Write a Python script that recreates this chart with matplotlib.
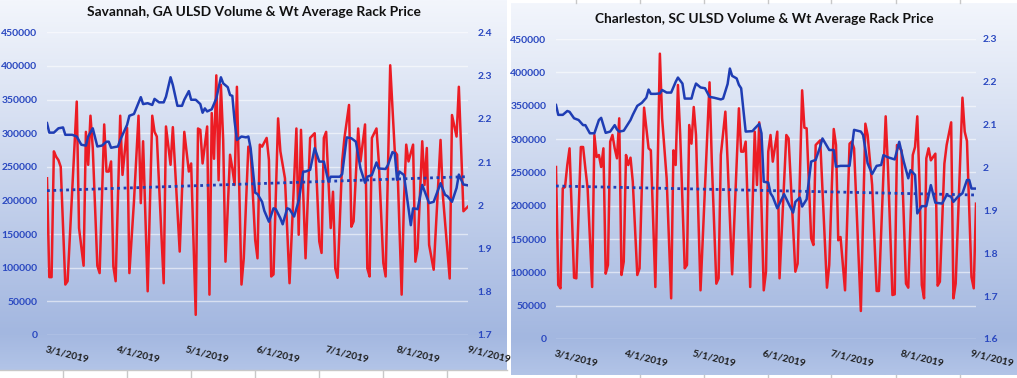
import matplotlib
matplotlib.use('Agg')
import matplotlib.pyplot as plt
import matplotlib.dates as mdates
import matplotlib.ticker as ticker
import numpy as np
import pandas as pd

START = pd.Timestamp('2019-03-01')

# Savannah, GA - daily volume (day offset from 3/1/2019, gallons)
sav_vol_days = [0, 1, 2, 3, 4, 5, 6, 8, 9, 13, 14, 16, 17, 18, 19, 20, 22, 23, 25, 26, 27, 28, 29, 30,
                32, 33, 35, 36, 38, 40, 41, 42, 44, 46, 47, 48, 51, 52, 54, 55, 58, 60, 62, 63, 65, 66,
                67, 68, 70, 71, 72, 73, 74, 75, 76, 77, 78, 80, 81, 82, 83, 85, 86, 88, 89, 91, 92, 93,
                94, 96, 97, 98, 99, 101, 102, 104, 106, 109, 110, 111, 113, 115, 117, 119, 120, 121, 122,
                124, 125, 126, 127, 129, 130, 132, 133, 134, 136, 137, 139, 140, 141, 142, 144, 145, 147,
                148, 150, 152, 153, 155, 156, 157, 158, 160, 161, 162, 164, 165, 166, 167, 169, 172, 173,
                176, 177, 179, 180, 182, 184]
sav_volume = [233000, 86000, 86000, 273000, 265000, 260000, 250000, 75000, 80000, 347000, 159000, 103000,
              302000, 253000, 326000, 278000, 103000, 92000, 313000, 243000, 243000, 258000, 102000, 80000,
              326000, 238000, 308000, 92000, 198000, 326000, 196000, 288000, 65000, 326000, 302000, 295000,
              77000, 310000, 253000, 309000, 124000, 302000, 243000, 255000, 30000, 307000, 305000, 255000,
              310000, 60000, 330000, 262000, 386000, 230000, 372000, 290000, 109000, 268000, 248000, 223000,
              369000, 75000, 114000, 280000, 273000, 141000, 114000, 283000, 280000, 293000, 260000, 87000,
              90000, 322000, 273000, 233000, 77000, 307000, 149000, 305000, 114000, 293000, 300000, 139000,
              122000, 293000, 302000, 159000, 213000, 99000, 85000, 258000, 293000, 342000, 161000, 169000,
              307000, 258000, 313000, 99000, 87000, 293000, 307000, 258000, 107000, 87000, 401000, 273000,
              268000, 60000, 198000, 283000, 258000, 283000, 109000, 129000, 288000, 223000, 278000, 134000,
              97000, 290000, 208000, 84000, 327000, 295000, 369000, 184000, 191000]
sav_price_days = [0, 1, 3, 5, 7, 8, 11, 13, 15, 17, 18, 20, 22, 24, 26, 27, 28, 31, 32, 35, 36, 38, 39, 41,
                  42, 44, 46, 47, 49, 51, 52, 54, 55, 57, 59, 60, 62, 63, 65, 67, 68, 69, 70, 72, 74, 76,
                  77, 79, 80, 81, 82, 83, 85, 87, 88, 89, 91, 92, 94, 95, 97, 99, 100, 102, 103, 105, 106,
                  108, 110, 112, 113, 115, 117, 119, 121, 123, 124, 128, 129, 131, 133, 135, 137, 139, 140,
                  142, 144, 145, 148, 149, 151, 152, 153, 154, 156, 159, 160, 162, 164, 167, 169, 172, 174,
                  175, 177, 179, 180, 182, 184]
sav_price = [2.190, 2.168, 2.168, 2.178, 2.180, 2.163, 2.163, 2.159, 2.140, 2.138, 2.159, 2.178, 2.136,
             2.138, 2.147, 2.147, 2.133, 2.136, 2.151, 2.186, 2.207, 2.211, 2.224, 2.250, 2.234, 2.236,
             2.232, 2.246, 2.238, 2.238, 2.251, 2.296, 2.278, 2.230, 2.230, 2.244, 2.264, 2.244, 2.244,
             2.234, 2.214, 2.224, 2.217, 2.222, 2.247, 2.296, 2.282, 2.273, 2.255, 2.253, 2.194, 2.151,
             2.159, 2.157, 2.159, 2.132, 2.029, 2.026, 2.008, 1.987, 1.962, 1.993, 1.991, 1.970, 1.956,
             1.993, 1.991, 1.974, 2.010, 2.078, 2.078, 2.082, 2.132, 2.101, 2.101, 2.055, 2.066, 2.066,
             2.072, 2.157, 2.155, 2.147, 2.085, 2.052, 2.066, 2.070, 2.099, 2.085, 2.084, 2.093, 2.123,
             2.120, 2.059, 2.078, 2.070, 1.954, 1.993, 1.991, 2.047, 2.005, 2.008, 2.051, 2.024, 2.021,
             2.008, 2.040, 2.071, 2.048, 2.046]
sav_trend = [214600, 235400]

# Charleston, SC
chs_vol_days = [0, 1, 2, 3, 4, 5, 6, 8, 9, 11, 12, 13, 14, 16, 17, 18, 19, 20, 21, 22, 23, 24, 25, 26, 27,
                28, 29, 30, 31, 32, 33, 34, 36, 37, 39, 41, 42, 44, 46, 47, 49, 51, 52, 53, 54, 55, 57, 58,
                59, 60, 61, 62, 64, 68, 69, 71, 72, 73, 75, 76, 78, 81, 82, 83, 84, 86, 88, 89, 90, 92, 93,
                94, 95, 96, 98, 99, 102, 103, 106, 107, 109, 110, 111, 113, 114, 115, 117, 120, 121, 123,
                124, 125, 126, 128, 130, 131, 132, 135, 137, 138, 140, 142, 143, 146, 147, 149, 150, 151,
                153, 155, 156, 158, 159, 160, 161, 162, 163, 164, 165, 166, 168, 169, 170, 172, 173, 175,
                176, 177, 180, 181, 182, 184, 185, 186]
chs_volume = [258000, 81000, 76000, 226000, 228000, 261000, 286000, 92000, 91000, 288000, 288000, 256000,
              226000, 78000, 306000, 273000, 276000, 258000, 286000, 98000, 111000, 296000, 306000, 286000,
              271000, 331000, 96000, 116000, 276000, 261000, 272000, 236000, 96000, 106000, 347000, 286000,
              283000, 78000, 428000, 331000, 241000, 61000, 283000, 261000, 381000, 306000, 106000, 111000,
              321000, 293000, 348000, 306000, 73000, 385000, 266000, 83000, 91000, 276000, 341000, 266000,
              97000, 346000, 281000, 281000, 296000, 78000, 311000, 231000, 325000, 73000, 101000, 281000,
              306000, 266000, 311000, 91000, 306000, 301000, 101000, 113000, 373000, 317000, 316000, 151000,
              141000, 291000, 298000, 77000, 111000, 315000, 291000, 148000, 153000, 73000, 293000, 296000,
              286000, 42000, 323000, 306000, 231000, 72000, 72000, 334000, 258000, 66000, 67000, 291000,
              283000, 83000, 77000, 276000, 288000, 334000, 231000, 81000, 61000, 271000, 286000, 268000,
              278000, 80000, 86000, 263000, 291000, 325000, 61000, 83000, 362000, 311000, 297000, 93000,
              76000, 203000]
chs_price_days = [0, 1, 3, 5, 6, 8, 10, 12, 13, 15, 17, 19, 20, 22, 24, 26, 27, 28, 30, 33, 34, 36, 38, 40,
                  41, 42, 44, 46, 47, 49, 51, 53, 54, 56, 57, 60, 61, 62, 64, 66, 68, 70, 73, 74, 76, 77,
                  78, 80, 81, 82, 83, 84, 87, 88, 90, 91, 92, 94, 95, 96, 98, 99, 101, 103, 105, 106, 108,
                  109, 111, 113, 115, 117, 118, 121, 123, 124, 126, 130, 132, 135, 136, 138, 140, 142, 144,
                  145, 147, 150, 152, 154, 156, 157, 159, 160, 162, 164, 166, 168, 171, 173, 175, 176, 178,
                  180, 182, 183, 184, 186]
chs_price = [2.146, 2.123, 2.123, 2.132, 2.130, 2.115, 2.111, 2.099, 2.099, 2.080, 2.080, 2.111, 2.116,
             2.081, 2.084, 2.099, 2.089, 2.084, 2.086, 2.111, 2.123, 2.144, 2.151, 2.163, 2.182, 2.172,
             2.172, 2.173, 2.181, 2.175, 2.175, 2.200, 2.210, 2.196, 2.161, 2.161, 2.181, 2.196, 2.187,
             2.185, 2.165, 2.163, 2.159, 2.161, 2.195, 2.231, 2.214, 2.208, 2.193, 2.185, 2.134, 2.084,
             2.085, 2.091, 2.102, 2.080, 1.967, 1.965, 1.940, 1.932, 1.905, 1.916, 1.938, 1.916, 1.895,
             1.920, 1.930, 1.909, 1.926, 2.014, 2.018, 2.049, 2.068, 2.041, 2.041, 2.002, 2.004, 2.004,
             2.088, 2.084, 2.076, 2.010, 1.985, 2.004, 2.006, 2.029, 2.024, 2.019, 2.060, 2.014, 1.975,
             1.994, 1.983, 1.893, 1.910, 1.910, 1.959, 1.918, 1.916, 1.936, 1.932, 1.920, 1.932, 1.940,
             1.971, 1.971, 1.951, 1.951]
chs_trend = [229500, 216000]

volume_ticks = [0, 50000, 100000, 150000, 200000, 250000, 300000, 350000, 400000, 450000]
sav_price_ticks = [1.7, 1.8, 1.9, 2.0, 2.1, 2.2, 2.3, 2.4]
chs_price_ticks = [1.6, 1.7, 1.8, 1.9, 2.0, 2.1, 2.2, 2.3]
month_ticks = ['2019-03-01', '2019-04-01', '2019-05-01', '2019-06-01',
               '2019-07-01', '2019-08-01', '2019-09-01']

RED = '#ec1c24'
BLUE = '#1f3db4'
LABEL_BLUE = '#2a48c0'
W, H = 1017, 378

plt.rcParams['font.family'] = ['Lato', 'DejaVu Sans']
plt.rcParams['font.weight'] = 'bold'


def to_dates(days):
    return START + pd.to_timedelta(days, unit='D')


def rect(x0, y0, x1, y1):
    # pixel box (top-left origin) -> figure fraction
    return [x0 / W, 1 - y1 / H, (x1 - x0) / W, (y1 - y0) / H]


def gradient_background(fig, box):
    bg = fig.add_axes(rect(*box), zorder=0)
    top = np.array([243, 246, 252]) / 255
    low = np.array([163, 183, 224]) / 255
    end = np.array([178, 196, 231]) / 255
    t = np.linspace(0, 1, 256)[:, None]
    cols = np.where(t < 0.9, top + (low - top) * (t / 0.9), low + (end - low) * ((t - 0.9) / 0.1))
    bg.imshow(cols[:, None, :], aspect='auto', extent=[0, 1, 0, 1])
    bg.axis('off')


def draw_panel(fig, box, plot_box, title, title_y, vol_days, volume, price_days, price, trend,
               price_ticks, last_day, right_pad):
    gradient_background(fig, box)
    ax = fig.add_axes(rect(*plot_box), zorder=1)
    ax.set_facecolor('none')
    ax.plot(to_dates(vol_days), volume, color=RED, lw=1.8, zorder=2)
    ax.plot(to_dates([vol_days[0], vol_days[-1]]), trend, color=BLUE, lw=2.0,
            linestyle=(0, (1, 1.3)), zorder=3)
    ax.set_ylim(0, 450000)
    ax.set_yticks(volume_ticks)
    ax.set_xlim(START, START + pd.Timedelta(days=last_day))
    ax.set_xticks(pd.to_datetime(month_ticks))
    ax.xaxis.set_major_formatter(ticker.FuncFormatter(
        lambda x, pos: '{0.month}/{0.day}/{0.year}'.format(mdates.num2date(x))))
    ax.yaxis.grid(True, color='white', alpha=0.55, lw=1)
    ax.set_axisbelow(True)
    ax.tick_params(axis='y', length=0, pad=7, labelcolor=LABEL_BLUE, labelsize=7.5)
    ax.tick_params(axis='x', length=0, pad=7, labelcolor='#1e1e1e', labelsize=7.3)
    plt.setp(ax.get_xticklabels(), rotation=-14, ha='left', va='top', rotation_mode='anchor')

    ax2 = ax.twinx()
    ax2.plot(to_dates(price_days), price, color=BLUE, lw=1.8)
    ax2.set_ylim(price_ticks[0], price_ticks[-1])
    ax2.set_yticks(price_ticks)
    ax2.yaxis.set_major_formatter(ticker.FuncFormatter(lambda v, pos: '{:g}'.format(round(v, 1))))
    ax2.tick_params(axis='y', length=0, pad=right_pad, labelcolor=LABEL_BLUE, labelsize=7.5)

    for a in (ax, ax2):
        for s in a.spines.values():
            s.set_visible(False)

    cx = (box[0] + box[2]) / 2
    fig.text(cx / W, 1 - title_y / H, title, ha='center', va='center', fontsize=9.9,
             color='#111111', fontweight='bold')


fig = plt.figure(figsize=(W / 100, H / 100), dpi=100)
fig.patch.set_facecolor('white')

draw_panel(fig, (0, 0, 507, 370), (47, 32.3, 468, 335),
           'Savannah, GA ULSD Volume & Wt Average Rack Price', 12,
           sav_vol_days, sav_volume, sav_price_days, sav_price, sav_trend,
           sav_price_ticks, 184, 7)
draw_panel(fig, (511, 3, 1017, 375), (556, 39, 976, 339),
           'Charleston, SC ULSD Volume & Wt Average Rack Price', 19,
           chs_vol_days, chs_volume, chs_price_days, chs_price, chs_trend,
           chs_price_ticks, 186, 5)

# spreadsheet cell borders peeking around the chart boxes
grid_col = '#c8c8c8'
fig.add_artist(plt.Line2D([0, 507 / W], [1 - 370 / H] * 2, color=grid_col, lw=1))
for x in [63, 127, 191, 255, 319, 383, 447]:
    fig.add_artist(plt.Line2D([x / W] * 2, [0, 1 - 371 / H], color=grid_col, lw=1))
for x in [576, 640, 704, 768, 831, 896, 960]:
    fig.add_artist(plt.Line2D([x / W] * 2, [1, 1 - 3 / H], color=grid_col, lw=1))
    fig.add_artist(plt.Line2D([x / W] * 2, [0, 3 / H], color=grid_col, lw=1))

fig.savefig('out.png', dpi=100)
